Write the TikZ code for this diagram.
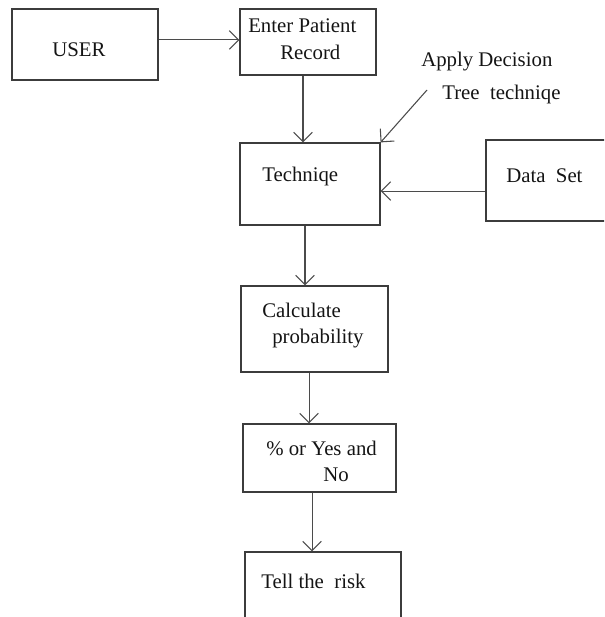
\documentclass[tikz,border=0pt]{standalone}
\usepackage{fontspec}
\setmainfont{Liberation Serif}
\usetikzlibrary{arrows.meta,fit}
\definecolor{boxgray}{RGB}{60,60,60}
\definecolor{linegray}{RGB}{75,75,75}
\begin{document}
\begin{tikzpicture}[x=0.75pt,y=-0.75pt,
  box/.style={draw=boxgray, line width=0.9pt, inner sep=0pt},
  lbl/.style={anchor=base west, inner sep=0pt, font=\fontsize{15.6}{18}\selectfont, text=black!92},
  arr/.style={draw=linegray, line width=0.8pt,
    -{Straight Barb[length=7pt,width=14pt,line width=0.8pt]}}]
\useasboundingbox (0,0) rectangle (604,617);
\clip (0,0) rectangle (604,617);

% boxes
\node[box, fit={(12,9) (158,80)}]   (user)  {};
\node[box, fit={(240,9) (376,75)}]  (enter) {};
\node[box, fit={(240,143) (380,225)}] (tech) {};
\node[box, fit={(486,140) (630,221)}] (data) {};
\node[box, fit={(241,286) (388,372)}] (calc) {};
\node[box, fit={(243,424) (396,492)}] (pct)  {};
\node[box, fit={(245,552) (401,640)}] (tell) {};

% texts
\node[lbl] (tuser)  at (52,56)   {USER};
\node[lbl] (tent1)  at (248,33)  {Enter Patient};
\node[lbl] (tent2)  at (280,60)  {Record};
\node[lbl] (tapp1)  at (421,66)  {Apply Decision};
\node[lbl] (tapp2)  at (442,99)  {Tree\ \ techniqe};
\node[lbl] (ttech)  at (262,181) {Techniqe};
\node[lbl] (tdata)  at (506,182) {Data\ \ Set};
\node[lbl] (tcalc1) at (262,317) {Calculate};
\node[lbl] (tcalc2) at (272,343) {probability};
\node[lbl] (tpct1)  at (266,455) {\% or Yes and};
\node[lbl] (tpct2)  at (323,481) {No};
\node[lbl] (ttell)  at (261,588) {Tell the\ \ risk};

% connectors
\draw[arr] ([yshift=3.4pt]user.east) -- ([yshift=3.4pt]user.east -| enter.west);
\draw[arr] ([xshift=-3.75pt]enter.south) -- ([xshift=-3.75pt]enter.south |- tech.north);
\coordinate (dtail) at (427,90);
\draw[arr] (dtail) -- (tech.north east);
\draw[arr] ([yshift=-7.9pt]data.west) -- ([yshift=-7.9pt]data.west -| tech.east);
\draw[arr] ([xshift=-3.75pt]tech.south) -- ([xshift=-3.75pt]tech.south |- calc.north);
\draw[arr] ([xshift=-4.1pt]calc.south) -- ([xshift=-4.1pt]calc.south |- pct.north);
\draw[arr] ([xshift=-5.6pt]pct.south) -- ([xshift=-5.6pt]pct.south |- tell.north);
\end{tikzpicture}
\end{document}
